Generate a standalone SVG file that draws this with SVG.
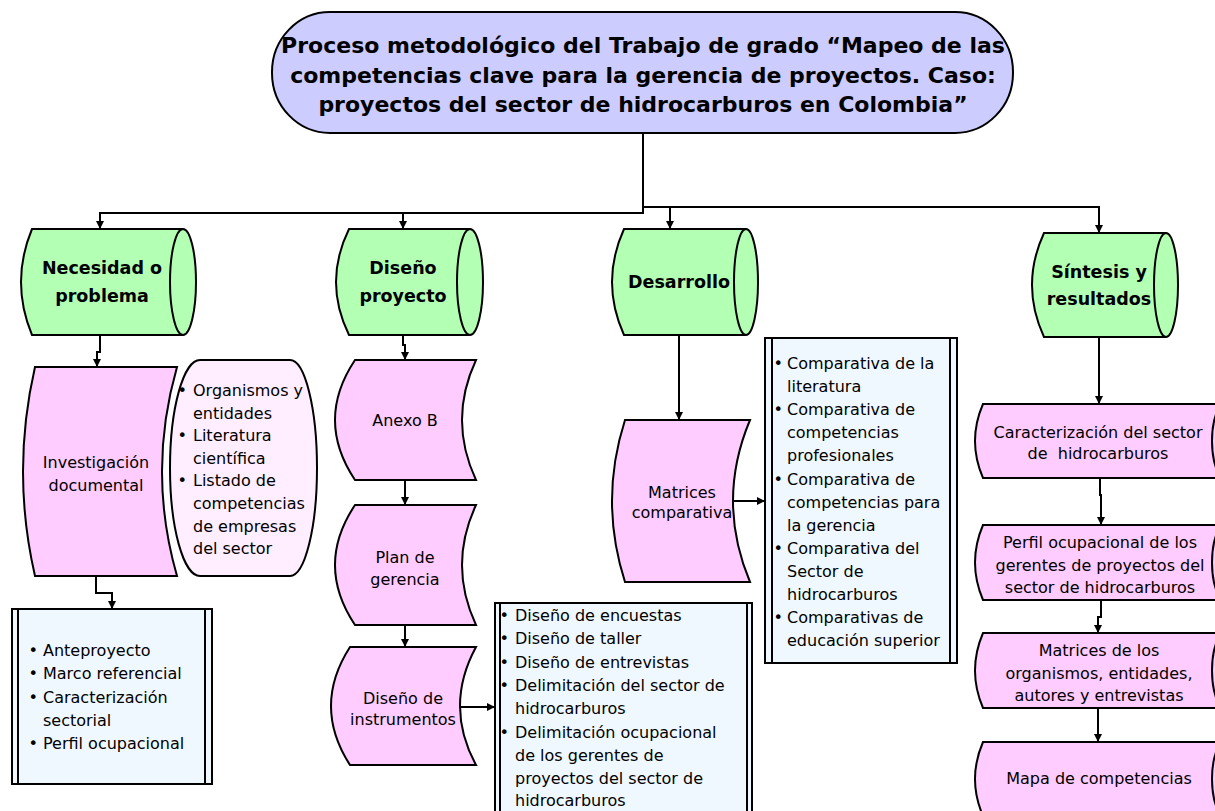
<svg xmlns="http://www.w3.org/2000/svg" width="1215" height="811" viewBox="0 0 1215 811">
<style>
.shape{stroke:#000;stroke-width:2}
.green{fill:#B3FFB3}
.pink{fill:#FFCCFF}
.lpink{fill:#FFEEFF}
.blue{fill:#F0F8FF}
.ttl{fill:#CCCCFF}
.line{fill:none;stroke:#000;stroke-width:2}
text{font-family:"DejaVu Sans","Liberation Sans",sans-serif;fill:#000}
.t{font-size:16px}
.c{text-anchor:middle}
.b{font-weight:bold;font-size:17.5px}
.h{font-weight:bold;font-size:22px}
.conn{fill:none;stroke:#000;stroke-width:2}
</style>
<defs>
<marker id="arr" markerUnits="userSpaceOnUse" markerWidth="10" markerHeight="10" refX="8" refY="4" orient="auto"><path d="M0,0 L8,4 L0,8 z" fill="#000"/></marker>
</defs>

<g id="connectors">
<path class="conn" d="M643,133 V213 H100 V229" marker-end="url(#arr)"/>
<path class="conn" d="M403,213 V229" marker-end="url(#arr)"/>
<path class="conn" d="M643,207 H1099 V233" marker-end="url(#arr)"/>
<path class="conn" d="M670,207 V229" marker-end="url(#arr)"/>
<path class="conn" d="M100,335 V352 H97 V367" marker-end="url(#arr)"/>
<path class="conn" d="M96,576 V593 H112 V609" marker-end="url(#arr)"/>
<path class="conn" d="M403,335 V345 H405 V360" marker-end="url(#arr)"/>
<path class="conn" d="M405,480 V505" marker-end="url(#arr)"/>
<path class="conn" d="M405,625 V647" marker-end="url(#arr)"/>
<path class="conn" d="M460,707 H495" marker-end="url(#arr)"/>
<path class="conn" d="M679,335 V420" marker-end="url(#arr)"/>
<path class="conn" d="M733,501 H765" marker-end="url(#arr)"/>
<path class="conn" d="M1099,337 V404" marker-end="url(#arr)"/>
<path class="conn" d="M1100,478 V495 H1101 V525" marker-end="url(#arr)"/>
<path class="conn" d="M1101,600 V617 H1098 V633" marker-end="url(#arr)"/>
<path class="conn" d="M1098,708 V742" marker-end="url(#arr)"/>
</g>

<g id="titulo">
<rect class="shape ttl" x="272" y="12" width="741" height="121" rx="58" ry="60"/>
<text class="h c" x="643" y="53">Proceso metodológico del Trabajo de grado “Mapeo de las</text>
<text class="h c" x="643" y="83">competencias clave para la gerencia de proyectos. Caso:</text>
<text class="h c" x="643" y="112">proyectos del sector de hidrocarburos en Colombia”</text>
</g>

<g id="necesidad">
<path class="shape green" d="M32,229 H183 A13,53 0 0 1 183,335 H32 Q10,282 32,229 Z"/>
<path class="line" d="M183,229 A13,53 0 0 0 183,335"/>
<text class="b c" x="102" y="274">Necesidad o</text>
<text class="b c" x="102" y="302">problema</text>
</g>

<g id="diseno">
<path class="shape green" d="M349,229 H470 A13,53 0 0 1 470,335 H349 Q323,282 349,229 Z"/>
<path class="line" d="M470,229 A13,53 0 0 0 470,335"/>
<text class="b c" x="403" y="274">Diseño</text>
<text class="b c" x="403" y="302">proyecto</text>
</g>

<g id="desarrollo">
<path class="shape green" d="M624,229 H746 A12,53 0 0 1 746,335 H624 Q600,282 624,229 Z"/>
<path class="line" d="M746,229 A12,53 0 0 0 746,335"/>
<text class="b c" x="679" y="288">Desarrollo</text>
</g>

<g id="sintesis">
<path class="shape green" d="M1044,233 H1166 A12,52 0 0 1 1166,337 H1044 Q1020,285 1044,233 Z"/>
<path class="line" d="M1166,233 A12,52 0 0 0 1166,337"/>
<text class="b c" x="1099" y="278">Síntesis y</text>
<text class="b c" x="1099" y="305">resultados</text>
</g>

<g id="investigacion">
<path class="shape pink" d="M35,367 H177 Q147,471.5 177,576 H35 Q11,471.5 35,367 Z"/>
<text class="t c" x="96" y="468">Investigación</text>
<text class="t c" x="96" y="491">documental</text>
</g>

<g id="organismos">
<path class="shape lpink" d="M200,360 H290 A27,108 0 0 1 290,576 H200 A30,108 0 0 1 200,360 Z"/>
<text class="t" x="177.5" y="396">•</text>
<text class="t" x="193" y="396">Organismos y</text>
<text class="t" x="193" y="418.6">entidades</text>
<text class="t" x="177.5" y="441.2">•</text>
<text class="t" x="193" y="441.2">Literatura</text>
<text class="t" x="193" y="463.8">científica</text>
<text class="t" x="177.5" y="486.4">•</text>
<text class="t" x="193" y="486.4">Listado de</text>
<text class="t" x="193" y="509">competencias</text>
<text class="t" x="193" y="531.6">de empresas</text>
<text class="t" x="193" y="554.2">del sector</text>
</g>

<g id="anteproyecto">
<rect class="shape blue" x="12" y="609" width="200" height="175"/>
<path class="line" d="M18,609 V784 M205,609 V784"/>
<text class="t" x="28.5" y="656">•</text>
<text class="t" x="43" y="656">Anteproyecto</text>
<text class="t" x="28.5" y="679">•</text>
<text class="t" x="43" y="679">Marco referencial</text>
<text class="t" x="28.5" y="703">•</text>
<text class="t" x="43" y="703">Caracterización</text>
<text class="t" x="43" y="726">sectorial</text>
<text class="t" x="28.5" y="749">•</text>
<text class="t" x="43" y="749">Perfil ocupacional</text>
</g>

<g id="anexo">
<path class="shape pink" d="M355,360 H476 Q448,420 476,480 H355 Q315,420 355,360 Z"/>
<text class="t c" x="405" y="426">Anexo B</text>
</g>

<g id="plan">
<path class="shape pink" d="M355,505 H476 Q448,565 476,625 H355 Q315,565 355,505 Z"/>
<text class="t c" x="405" y="563">Plan de</text>
<text class="t c" x="405" y="585">gerencia</text>
</g>

<g id="instrumentos">
<path class="shape pink" d="M350,647 H476 Q444,706 476,765 H350 Q312,706 350,647 Z"/>
<text class="t c" x="403" y="704">Diseño de</text>
<text class="t c" x="403" y="725">instrumentos</text>
</g>

<g id="encuestas">
<rect class="shape blue" x="495" y="603" width="257" height="215"/>
<path class="line" d="M500,603 V818 M747,603 V818"/>
<text class="t" x="499.5" y="621">•</text>
<text class="t" x="515" y="621">Diseño de encuestas</text>
<text class="t" x="499.5" y="644">•</text>
<text class="t" x="515" y="644">Diseño de taller</text>
<text class="t" x="499.5" y="668">•</text>
<text class="t" x="515" y="668">Diseño de entrevistas</text>
<text class="t" x="499.5" y="691">•</text>
<text class="t" x="515" y="691">Delimitación del sector de</text>
<text class="t" x="515" y="714">hidrocarburos</text>
<text class="t" x="499.5" y="738">•</text>
<text class="t" x="515" y="738">Delimitación ocupacional</text>
<text class="t" x="515" y="761">de los gerentes de</text>
<text class="t" x="515" y="784">proyectos del sector de</text>
<text class="t" x="515" y="806">hidrocarburos</text>
</g>

<g id="matrices">
<path class="shape pink" d="M625,420 H750 Q716,501 750,582 H625 Q599,501 625,420 Z"/>
<text class="t c" x="682" y="498">Matrices</text>
<text class="t c" x="682" y="518">comparativa</text>
</g>

<g id="comparativas">
<rect class="shape blue" x="765" y="338" width="192" height="325"/>
<path class="line" d="M772,338 V663 M950,338 V663"/>
<text class="t" x="773.5" y="369">•</text>
<text class="t" x="787" y="369">Comparativa de la</text>
<text class="t" x="787" y="392.1">literatura</text>
<text class="t" x="773.5" y="415.2">•</text>
<text class="t" x="787" y="415.2">Comparativa de</text>
<text class="t" x="787" y="438.3">competencias</text>
<text class="t" x="787" y="461.4">profesionales</text>
<text class="t" x="773.5" y="484.5">•</text>
<text class="t" x="787" y="484.5">Comparativa de</text>
<text class="t" x="787" y="507.6">competencias para</text>
<text class="t" x="787" y="530.7">la gerencia</text>
<text class="t" x="773.5" y="553.8">•</text>
<text class="t" x="787" y="553.8">Comparativa del</text>
<text class="t" x="787" y="576.9">Sector de</text>
<text class="t" x="787" y="600">hidrocarburos</text>
<text class="t" x="773.5" y="623.1">•</text>
<text class="t" x="787" y="623.1">Comparativas de</text>
<text class="t" x="787" y="646.2">educación superior</text>
</g>

<g id="caracterizacion">
<path class="shape pink" d="M983,404 H1225 A13,37 0 0 1 1225,478 H983 Q967,441 983,404 Z"/>
<path class="line" d="M1225,404 A13,37 0 0 0 1225,478"/>
<text class="t c" x="1098" y="438">Caracterización del sector</text>
<text class="t c" x="1098" y="459">de&#160; hidrocarburos</text>
</g>

<g id="perfil">
<path class="shape pink" d="M983,525 H1225 A13,37.5 0 0 1 1225,600 H983 Q967,562.5 983,525 Z"/>
<path class="line" d="M1225,525 A13,37.5 0 0 0 1225,600"/>
<text class="t c" x="1100" y="548">Perfil ocupacional de los</text>
<text class="t c" x="1100" y="570.5">gerentes de proyectos del</text>
<text class="t c" x="1100" y="593">sector de hidrocarburos</text>
</g>

<g id="matrices-organismos">
<path class="shape pink" d="M983,633 H1225 A13,37.5 0 0 1 1225,708 H983 Q967,670.5 983,633 Z"/>
<path class="line" d="M1225,633 A13,37.5 0 0 0 1225,708"/>
<text class="t c" x="1099" y="656">Matrices de los</text>
<text class="t c" x="1099" y="679">organismos, entidades,</text>
<text class="t c" x="1099" y="701">autores y entrevistas</text>
</g>

<g id="mapa">
<path class="shape pink" d="M983,742 H1225 A13,37 0 0 1 1225,816 H983 Q967,779 983,742 Z"/>
<path class="line" d="M1225,742 A13,37 0 0 0 1225,816"/>
<text class="t c" x="1099" y="784">Mapa de competencias</text>
</g>
</svg>
